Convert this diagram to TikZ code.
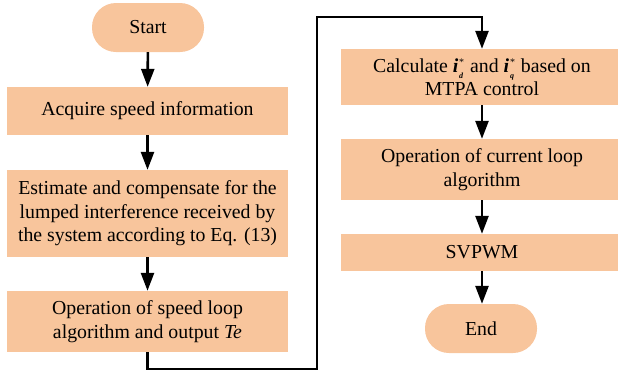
\documentclass[tikz,border=0pt]{standalone}
\usepackage{fontspec}
\setmainfont{Liberation Serif}
\newfontfamily\timesfont{Liberation Serif}
\usetikzlibrary{arrows.meta}
\definecolor{peach}{HTML}{F8C59C}
\newcommand{\curri}[1]{\textbf{\textit{i}}\kern0.8pt\makebox[6pt][l]{\rlap{\raisebox{0.75ex}{\fontsize{10}{10}\selectfont *}}\raisebox{-0.7ex}{\fontsize{8}{8}\selectfont\textbf{\textit{#1}}}}}
\begin{document}
\begin{tikzpicture}[x=1pt,y=-1pt,
  box/.style={fill=peach,draw=none,align=center,inner sep=0pt,
    font=\timesfont\fontsize{19.8}{23.5}\selectfont},
  term/.style={box,rounded corners=24pt},
  arr/.style={line width=2.6pt,line join=miter,-{Triangle[width=13pt,length=18pt]}}]
\useasboundingbox (0,0) rectangle (618,373);
% left column
\node[term,minimum width=112pt,minimum height=49pt] (start) at (148,27.5) {Start};
\node[box,minimum width=281pt,minimum height=48pt] (acq) at (147.5,111) {Acquire speed information};
\node[box,minimum width=281pt,minimum height=87pt] (est) at (147.5,213.5) {Estimate and compensate for the\\lumped interference received by\\the system according to Eq. (13)};
\node[box,minimum width=281pt,minimum height=61pt] (spd) at (147.5,321.5) {Operation of speed loop\\algorithm and output \textit{Te}};
% right column
\node[box,minimum width=282pt,minimum height=56pt] (calc) at (482,77) {Calculate \curri{d} and \curri{q} based on\\MTPA control};
\node[box,minimum width=282pt,minimum height=61pt] (cur) at (482,169.5) {Operation of current loop\\algorithm};
\node[box,minimum width=282pt,minimum height=37pt] (svp) at (482,252.5) {SVPWM};
\node[term,minimum width=112pt,minimum height=49pt] (end) at (481,328.5) {End};
% connectors
\draw[arr] (start) -- (acq);
\draw[arr] (acq) -- (est);
\draw[arr] (est) -- (spd);
\coordinate (b1) at (317,369);
\coordinate (t1) at (482,17);
\draw[arr] (spd.south) |- (b1) |- (t1) -- (calc.north);
\draw[arr] (calc) -- (cur);
\draw[arr] (cur) -- (svp);
\draw[arr] (svp.south) -- (svp.south |- end.north);
\end{tikzpicture}
\end{document}
